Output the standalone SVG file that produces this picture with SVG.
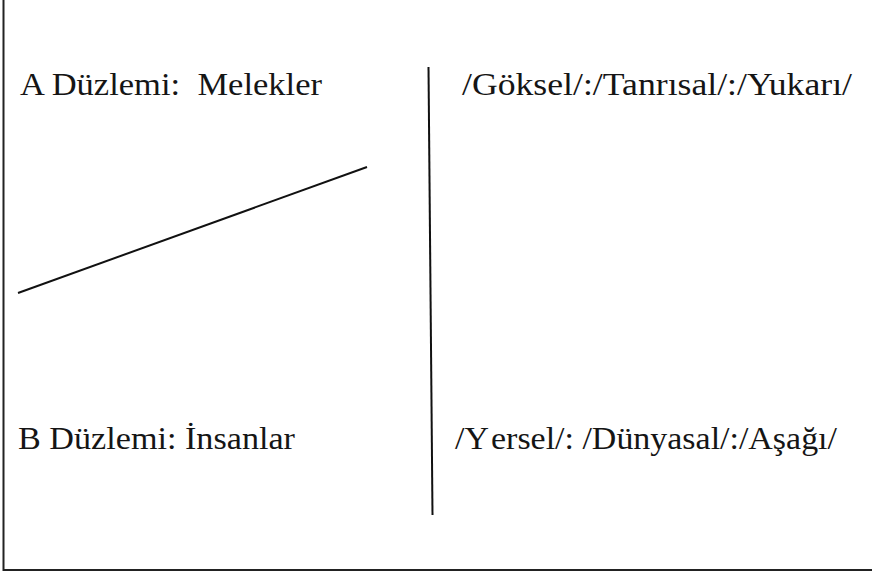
<svg xmlns="http://www.w3.org/2000/svg" width="872" height="575" viewBox="0 0 872 575">
<style>
.t{font-family:"Liberation Serif","Times New Roman",serif;font-size:31px;fill:#151515}
.ln{stroke:#111;stroke-width:2;fill:none}
.fr{stroke:#222;stroke-width:2;fill:none}
</style>
<rect width="872" height="575" fill="#fff"/>
<g id="frame"><path class="fr" d="M3.5,0 V570 H872"/></g>
<g id="connectors">
<line class="ln" x1="18" y1="293" x2="367" y2="167"/>
<line class="ln" x1="428.5" y1="67" x2="432.5" y2="515"/>
</g>
<g id="a-label"><text class="t" x="20" y="95" textLength="302" lengthAdjust="spacingAndGlyphs" xml:space="preserve">A Düzlemi:  Melekler</text></g>
<g id="a-right"><text class="t" x="462" y="95" textLength="390" lengthAdjust="spacingAndGlyphs">/Göksel/:/Tanrısal/:/Yukarı/</text></g>
<g id="b-label"><text class="t" x="18" y="449" textLength="277" lengthAdjust="spacingAndGlyphs">B Düzlemi: İnsanlar</text></g>
<g id="b-right"><text class="t" x="455" y="449" textLength="382" lengthAdjust="spacingAndGlyphs">/Y<tspan dx="5">ersel/: /Dünyasal/:/Aşağı/</tspan></text></g>
</svg>
